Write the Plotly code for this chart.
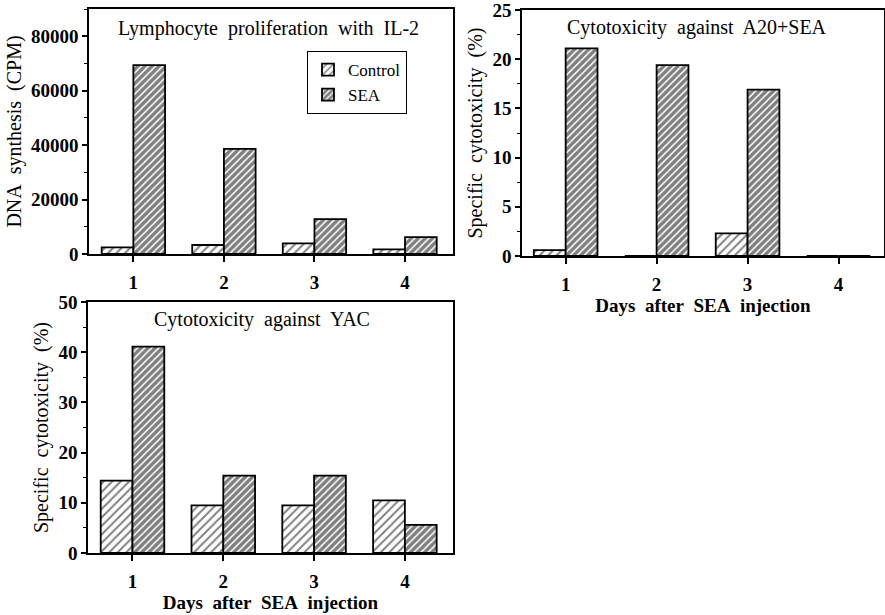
import plotly.graph_objects as go

# Days after SEA injection
days = [1, 2, 3, 4]
day_labels = ["1", "2", "3", "4"]

# Lymphocyte proliferation with IL-2 (CPM)
prolif_control = [2400, 3300, 3900, 1700]
prolif_sea = [69400, 38600, 12800, 6200]

# Cytotoxicity against A20+SEA (%)
a20_control = [0.6, 0.0, 2.3, 0.0]
a20_sea = [21.1, 19.4, 16.9, 0.0]

# Cytotoxicity against YAC (%)
yac_control = [14.4, 9.5, 9.5, 10.5]
yac_sea = [41.1, 15.4, 15.4, 5.6]

W, H = 885, 615
SERIF = "Liberation Serif, Times New Roman, serif"
BAR_W = 0.35
GAP = "\u00a0 "  # wide typewriter-style word spacing


def spaced(text):
    return text.replace(" ", GAP)


def px_x(p):
    return p / W


def px_y(p):
    return 1 - p / H


control_pattern = dict(shape="/", size=6, solidity=0.32, fgcolor="black", bgcolor="white")
sea_pattern = dict(shape="/", size=5, solidity=0.7, fgcolor="black", bgcolor="white")

fig = go.Figure()


def add_pair(ctrl, sea, xa, ya, legend):
    fig.add_trace(go.Bar(
        x=days, y=ctrl, width=BAR_W, offset=-BAR_W, name="Control",
        marker=dict(color="white", pattern=control_pattern, line=dict(color="black", width=1.8)),
        xaxis=xa, yaxis=ya, showlegend=legend,
    ))
    fig.add_trace(go.Bar(
        x=days, y=sea, width=BAR_W, offset=0, name="SEA",
        marker=dict(color="white", pattern=sea_pattern, line=dict(color="black", width=1.8)),
        xaxis=xa, yaxis=ya, showlegend=legend,
    ))


add_pair(prolif_control, prolif_sea, "x", "y", True)
add_pair(a20_control, a20_sea, "x2", "y2", False)
add_pair(yac_control, yac_sea, "x3", "y3", False)

tick_font = dict(family=SERIF, size=19, color="black", weight="bold")
title_font_y = dict(family=SERIF, size=20, color="black")
title_font_x = dict(family=SERIF, size=19, color="black", weight="bold")


def xaxis(domain, anchor, rng, title=None):
    d = dict(
        domain=domain, anchor=anchor, range=rng, automargin=False,
        tickmode="array", tickvals=days, ticktext=day_labels,
        ticks="outside", ticklen=6, tickwidth=1.5, tickcolor="black",
        showline=True, linecolor="black", linewidth=1.5, mirror=True,
        showgrid=False, zeroline=False, tickfont=tick_font,
        ticklabelstandoff=4, ticklabeloverflow="allow",
    )
    if title:
        d["title"] = dict(text=spaced(title), font=title_font_x, standoff=5)
    return d


def yaxis(domain, anchor, rng, dtick, minor, title):
    return dict(
        domain=domain, anchor=anchor, range=rng, dtick=dtick, tick0=0,
        automargin=False, tickformat="d", ticklabeloverflow="allow",
        ticks="outside", ticklen=5, tickwidth=1.5, tickcolor="black",
        minor=dict(ticks="outside", ticklen=3, tickwidth=1, tickcolor="black", dtick=minor, tick0=0),
        showline=True, linecolor="black", linewidth=1.5, mirror=True,
        showgrid=False, zeroline=False, tickfont=tick_font,
        title=dict(text=spaced(title), font=title_font_y, standoff=4),
    )


fig.update_layout(
    width=W, height=H,
    margin=dict(l=0, r=0, t=0, b=0, autoexpand=False),
    paper_bgcolor="white", plot_bgcolor="white",
    font=dict(family=SERIF, color="black"),
    barmode="overlay",
    xaxis=xaxis([px_x(89), px_x(453)], "y", [0.51, 4.53]),
    yaxis=yaxis([px_y(254), px_y(9)], "x", [0, 90000], 20000, 10000, "DNA synthesis (CPM)"),
    xaxis2=xaxis([px_x(522), px_x(884)], "y2", [0.52, 4.5], "Days after SEA injection"),
    yaxis2=yaxis([px_y(256), px_y(10)], "x2", [0, 25], 5, 2.5, "Specific cytotoxicity (%)"),
    xaxis3=xaxis([px_x(88), px_x(453)], "y3", [0.51, 4.53], "Days after SEA injection"),
    yaxis3=yaxis([px_y(553), px_y(302)], "x3", [0, 50], 10, 5, "Specific cytotoxicity (%)"),
    legend=dict(
        x=px_x(307), y=px_y(51), xanchor="left", yanchor="top",
        bordercolor="black", borderwidth=1, bgcolor="white",
        font=dict(family=SERIF, size=17, color="black"),
        tracegroupgap=0,
    ),
    showlegend=True,
)

panel_titles = [
    ("Lymphocyte proliferation with IL-2", 268, 29),
    ("Cytotoxicity against A20+SEA", 697, 27),
    ("Cytotoxicity against YAC", 262, 319),
]
for text, cx, cy in panel_titles:
    fig.add_annotation(
        text=spaced(text), x=px_x(cx), y=px_y(cy), xref="paper", yref="paper",
        showarrow=False, xanchor="center", yanchor="middle",
        font=dict(family=SERIF, size=20, color="black"),
    )

fig.write_html("out.html")
